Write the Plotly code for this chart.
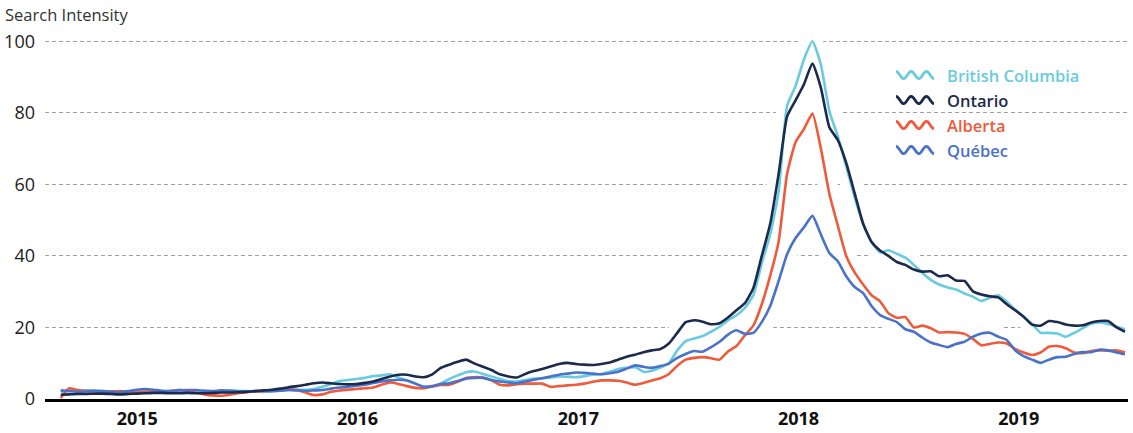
import numpy as np
import pandas as pd
import plotly.graph_objects as go

# Fortnightly search-intensity index (0-100), late Aug 2014 to end of June 2019
dates = pd.date_range("2014-08-27", periods=127, freq="14D")

british_columbia = [
    2.0, 2.4, 2.5, 2.4, 2.3, 2.2, 2.1, 2.0, 2.1, 2.3, 2.4, 2.2, 2.1, 2.3, 2.5, 2.4,
    2.2, 2.3, 2.1, 2.2, 2.4, 2.3, 2.2, 2.1, 2.0, 2.2, 2.3, 2.5, 2.6, 2.6, 2.8, 3.4,
    4.2, 5.0, 5.3, 5.6, 5.9, 6.4, 6.6, 6.9, 6.0, 5.2, 4.3, 3.4, 3.5, 4.3, 5.6, 6.6,
    7.5, 7.7, 7.0, 6.3, 5.6, 5.0, 4.9, 5.3, 5.7, 5.8, 6.0, 6.3, 6.2, 6.1, 6.4, 6.8,
    7.0, 7.6, 8.4, 8.7, 8.9, 7.6, 7.9, 8.8, 10.0, 13.6, 16.2, 16.9, 17.6, 18.8, 20.2, 22.0,
    23.4, 25.5, 29.0, 38.0, 46.0, 58.0, 82.0, 87.5, 95.0, 100.0, 93.5, 80.5, 73.5, 65.0, 56.4, 49.0,
    43.9, 41.0, 41.6, 40.6, 39.5, 37.5, 35.3, 33.3, 32.0, 31.2, 30.6, 29.5, 28.6, 27.4, 28.3, 29.0,
    27.2, 25.0, 23.0, 21.0, 18.5, 18.5, 18.3, 17.4, 18.5, 19.8, 21.0, 21.4, 21.0, 20.2, 19.5,
]

ontario = [
    1.2, 1.3, 1.4, 1.4, 1.5, 1.5, 1.4, 1.3, 1.4, 1.5, 1.6, 1.7, 1.7, 1.6, 1.6, 1.7,
    1.6, 1.6, 1.7, 1.8, 1.8, 1.9, 2.0, 2.2, 2.4, 2.6, 2.9, 3.3, 3.6, 4.0, 4.4, 4.6,
    4.4, 4.2, 4.1, 4.2, 4.5, 4.9, 5.6, 6.3, 6.8, 6.8, 6.3, 6.1, 6.9, 8.7, 9.6, 10.4,
    11.0, 9.9, 9.0, 8.1, 6.9, 6.3, 6.0, 7.0, 7.8, 8.4, 9.1, 9.8, 10.1, 9.8, 9.6, 9.5,
    9.8, 10.2, 11.0, 11.8, 12.4, 13.1, 13.6, 14.0, 15.5, 18.5, 21.5, 22.0, 21.6, 20.9, 21.2, 22.8,
    24.8, 26.8, 31.0, 40.0, 49.0, 63.0, 79.0, 83.5, 88.0, 93.8, 87.0, 76.0, 72.4, 66.0, 57.5, 49.0,
    43.9, 41.5, 40.0, 38.3, 37.5, 36.2, 35.6, 35.7, 34.3, 34.6, 33.1, 33.0, 30.1, 29.2, 28.7, 28.4,
    26.5, 24.8, 23.0, 20.8, 20.5, 21.8, 21.5, 20.8, 20.5, 20.6, 21.4, 21.8, 21.8, 20.0, 18.8,
]

alberta = [
    0.3, 3.0, 2.5, 2.2, 2.2, 2.0, 2.1, 2.2, 2.0, 1.8, 2.0, 1.9, 1.8, 2.2, 2.5, 2.3,
    1.8, 1.3, 1.0, 0.9, 1.2, 1.6, 1.9, 2.1, 2.2, 2.3, 2.6, 2.7, 2.5, 1.8, 1.1, 1.3,
    2.0, 2.4, 2.6, 2.8, 3.0, 3.2, 4.0, 4.6, 4.2, 3.6, 3.1, 3.0, 3.5, 3.9, 4.0, 4.8,
    5.9, 6.1, 6.0, 5.2, 4.0, 3.8, 4.1, 4.3, 4.3, 4.3, 3.4, 3.6, 3.8, 4.0, 4.3, 4.8,
    5.2, 5.2, 5.1, 4.6, 4.0, 4.5, 5.2, 5.8, 7.0, 9.3, 11.0, 11.5, 11.7, 11.4, 11.0, 13.3,
    14.8, 17.8, 20.5, 26.5, 34.5, 44.0, 63.0, 71.8, 75.5, 79.8, 70.0, 57.4, 48.5, 40.0, 35.4, 32.0,
    29.0, 27.3, 24.0, 22.7, 22.9, 20.0, 20.5, 19.8, 18.6, 18.7, 18.6, 18.2, 16.8, 15.0, 15.4, 15.8,
    15.5, 14.0, 13.0, 12.3, 13.0, 14.6, 14.8, 14.2, 13.0, 12.8, 13.4, 13.6, 13.5, 13.6, 13.0,
]

quebec = [
    2.4, 2.2, 2.0, 2.1, 2.3, 2.2, 2.0, 1.9, 2.2, 2.6, 2.8, 2.6, 2.3, 2.2, 2.4, 2.5,
    2.5, 2.3, 2.2, 2.4, 2.3, 2.1, 2.1, 2.2, 2.3, 2.2, 2.3, 2.5, 2.4, 2.3, 2.4, 2.5,
    2.9, 3.2, 3.4, 3.7, 4.0, 4.5, 4.9, 5.2, 5.4, 5.2, 4.3, 3.4, 3.6, 4.2, 4.4, 5.0,
    5.7, 5.9, 5.9, 5.3, 4.9, 4.6, 4.4, 4.9, 5.4, 5.8, 6.3, 6.8, 7.1, 7.4, 7.3, 7.1,
    6.9, 7.2, 7.6, 8.5, 9.4, 9.0, 8.7, 9.2, 9.9, 11.5, 12.6, 13.4, 13.2, 14.5, 16.0, 18.0,
    19.2, 18.2, 18.5, 21.5, 26.0, 33.0, 40.5, 45.0, 48.0, 51.2, 46.0, 40.8, 38.5, 34.3, 31.3, 29.6,
    26.0, 23.5, 22.4, 21.5, 19.5, 18.8, 17.2, 15.8, 15.1, 14.5, 15.4, 16.0, 17.4, 18.3, 18.5, 17.4,
    16.5, 13.6, 12.0, 11.0, 10.1, 11.0, 11.7, 11.8, 12.6, 13.1, 13.1, 13.8, 13.6, 13.0, 12.5,
]

series = [
    ("British Columbia", british_columbia, "#6ACBE0"),
    ("Alberta", alberta, "#EF5A3A"),
    ("Québec", quebec, "#4A72C8"),
    ("Ontario", ontario, "#1C2A4D"),
]
legend_order = ["British Columbia", "Ontario", "Alberta", "Québec"]
colors = {name: c for name, _, c in series}

year_ticks = pd.to_datetime(["2015-01-01", "2016-01-01", "2017-01-01", "2018-01-01", "2019-01-01"])
year_labels = ["2015", "2016", "2017", "2018", "2019"]

FONT = "Open Sans"
W, H = 1133, 433
M_L, M_R, M_T, M_B = 45, 5, 27, 34
PW, PH = W - M_L - M_R, H - M_T - M_B

fig = go.Figure()

# white casing under every line so the dashed grid breaks where the lines pass
for name, vals, _ in series:
    fig.add_trace(go.Scatter(
        x=dates, y=vals, mode="lines", showlegend=False, hoverinfo="skip",
        line=dict(color="white", width=20, shape="spline", smoothing=0.5),
    ))

for name, vals, color in series:
    fig.add_trace(go.Scatter(
        x=dates, y=vals, mode="lines", name=name, showlegend=False,
        line=dict(color=color, width=2.6, shape="spline", smoothing=0.5),
    ))

# legend: wavy swatch + coloured label
def px_x(x):
    return (x - M_L) / PW

def px_y(y):
    return (H - M_B - y) / PH

shapes = [
    dict(type="rect", xref="paper", yref="paper", layer="between",
         x0=px_x(838), x1=px_x(1130), y0=px_y(165), y1=px_y(58),
         fillcolor="white", line=dict(width=0)),
]
annotations = [
    dict(text="Search Intensity", xref="paper", yref="paper",
         x=px_x(3), y=px_y(14), xanchor="left", yanchor="middle", showarrow=False,
         font=dict(family=FONT, size=16.5, color="#333333")),
]
t = np.linspace(0, 5 * np.pi, 80)
for k, name in enumerate(legend_order):
    yc = 75 + 25 * k
    xs = 896 + (t / (5 * np.pi)) * 38
    ys = yc - 3.6 * np.cos(t)
    path = "M " + " L ".join(f"{px_x(a):.5f},{px_y(b):.5f}" for a, b in zip(xs, ys))
    shapes.append(dict(type="path", xref="paper", yref="paper", path=path,
                       line=dict(color=colors[name], width=2.8)))
    annotations.append(dict(
        text=name, xref="paper", yref="paper", x=px_x(945), y=px_y(yc),
        xanchor="left", yanchor="middle", showarrow=False,
        font=dict(family=FONT, size=16.5, color=colors[name], weight=600),
    ))

fig.update_layout(
    width=W, height=H,
    margin=dict(l=M_L, r=M_R, t=M_T, b=M_B),
    plot_bgcolor="white", paper_bgcolor="white",
    showlegend=False,
    shapes=shapes, annotations=annotations,
    font=dict(family=FONT, color="#222222"),
    xaxis=dict(
        range=[pd.Timestamp("2014-08-01"), pd.Timestamp("2019-07-01")],
        tickvals=year_ticks, ticktext=year_labels,
        tickfont=dict(family=FONT, size=18, color="#111111", weight=700),
        showgrid=False, zeroline=False, ticks="", ticklabelstandoff=1,
        showline=True, linecolor="black", linewidth=3, automargin=False,
    ),
    yaxis=dict(
        range=[0, 104], tickvals=[0, 20, 40, 60, 80, 100],
        tickfont=dict(family=FONT, size=18, color="#222222"),
        showgrid=True, gridcolor="#A0A0A0", gridwidth=1, griddash="4px,3px",
        zeroline=False, ticks="", ticklabelstandoff=9, automargin=False,
    ),
)

fig.write_html("out.html", config={"displayModeBar": False})
